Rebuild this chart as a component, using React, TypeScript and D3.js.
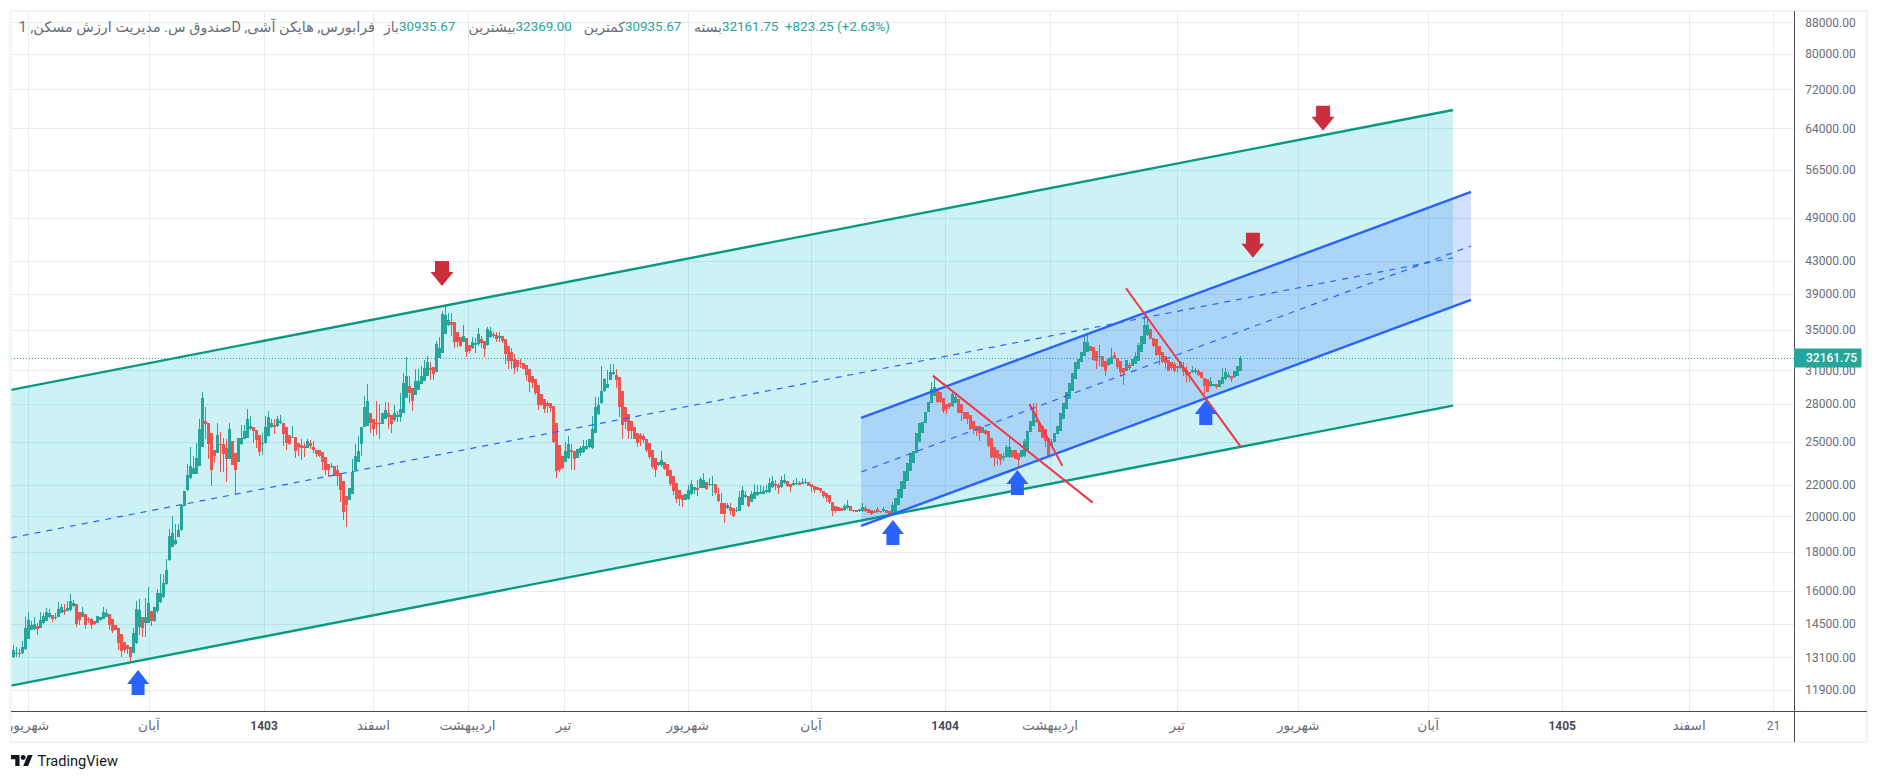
import React from "react";
import * as d3 from "d3";

const opens = [
13100,13230,13260,13260,13420,13850,14220,14250,14390,14310,
14510,14620,14770,14870,14740,14800,14980,15100,15040,15100,
15280,15380,15010,14800,14920,14710,14680,14620,14540,14650,
14710,14800,14920,14680,14430,14330,14050,13710,13590,13500,
13280,13690,14360,14770,14540,14540,15040,14620,15040,15470,
15690,16330,17560,18260,18410,18820,19200,20640,21620,22440,
22730,22730,23290,24590,26600,26440,25650,24370,24150,24820,
24820,24520,23760,25040,24220,23570,24820,25240,25320,25960,
26110,25880,25490,24840,24890,25440,26110,26270,26220,26440,
26490,26110,25490,25290,25390,24890,24740,24690,24540,24940,
24640,24440,24420,24270,23900,23430,23190,23290,23010,22780,
22210,21270,20980,21360,23010,23570,24840,26170,26220,27240,
26810,26440,26440,26390,26810,27240,27130,26700,26960,26960,
27240,28540,29530,29350,28820,29230,29710,30010,30490,31200,
31270,30800,32160,32640,34570,35510,35800,35800,34810,34290,
33780,34120,33440,33110,33440,33540,34050,33880,33440,34220,
34570,34460,34190,34320,34050,33370,32710,32060,32000,31680,
31680,31490,31110,30430,30190,29650,28850,28420,28080,28080,
27820,26440,24740,23950,23520,23830,24370,24320,23810,24150,
24250,24490,24590,24540,25700,27160,28080,29120,29410,30130,
30610,30550,30370,29120,27740,27160,26600,26170,25650,25490,
25440,25240,24890,24440,23860,23360,23360,23570,23430,23010,
22600,22100,21660,21320,20980,21060,21360,21660,21790,21790,
21750,22190,21970,21970,22060,21410,20810,20810,20480,20560,
20520,20310,20350,20680,21190,21230,20890,21100,21320,21400,
21400,21490,21490,21840,22060,21990,21840,22100,22240,22060,
21970,22010,22100,22060,22100,22150,22010,21930,21840,21770,
21560,21450,21340,20890,20640,20560,20480,20390,20480,20640,
20390,20390,20310,20310,20520,20430,20390,20230,20430,20350,
20310,20390,20350,20190,20290,20700,21120,21710,22210,22900,
23480,24200,24990,25700,26490,27350,28130,28710,29230,29000,
28560,27990,28080,27850,28130,28420,27990,27350,27350,27070,
26620,26220,26220,25700,25880,25830,25320,24640,24440,24080,
23860,23900,23900,24440,24440,24200,23900,23950,24440,25750,
26220,26700,26490,26220,25960,25320,24690,24990,25570,25830,
26750,27570,28420,29140,30190,31110,31740,32380,32770,33310,
33240,32880,32320,32380,31900,31490,31580,32450,32120,31900,
31170,30950,31490,31420,31580,31900,32770,33540,34460,35090,
34120,34050,33370,32770,32320,32000,31800,31580,31420,31170,
31270,31050,30800,30800,30860,30950,30800,30250,30190,29590,
29590,29740,29440,29740,30190,30340,30490,30340,30490,30935.67,
];
const highs = [
13590,13500,13420,13770,14770,15010,14620,14770,14540,15010,
14950,15190,15130,14870,14950,15470,15380,15380,15500,15850,
15560,15380,15010,15220,14920,14800,14740,14620,14830,14800,
15220,15160,14920,14680,14430,14330,14050,13710,13590,13500,
14330,15530,15590,14770,15640,16170,15040,15220,16070,16820,
16830,17620,19280,20030,19550,19550,20700,21600,23430,24640,
24000,24940,26810,29000,27790,26440,25650,24370,26490,25780,
25320,25190,26490,25040,24220,25320,26270,26270,27570,27020,
26110,25880,25490,25700,27020,27460,26810,26750,27020,27070,
26490,26110,25490,26220,25390,24890,25240,24940,25190,25140,
25060,24440,24420,24270,23900,23430,23480,23290,23360,22780,
22210,21270,21770,23760,24840,25440,26110,28710,29740,27240,
26810,28240,27990,27300,28190,28190,27130,27910,27410,28940,
30730,32220,30430,29350,31110,31110,31360,32000,32320,31740,
31270,33880,34220,37040,37640,36810,36810,35800,34810,34290,
35510,34120,33440,34220,34120,35160,34320,33880,35270,35270,
34740,34740,34740,34320,34050,33370,33110,32550,32000,32060,
31680,31490,31110,30430,30190,29650,28850,28420,28280,28130,
27820,26440,24740,23950,24990,25440,24820,24320,24490,24690,
25140,25140,25240,27020,28650,28650,31360,30250,31050,31580,
31580,31110,30370,29120,27740,27160,26600,26170,25650,25700,
25570,25240,24890,24440,23860,23570,24300,23570,23430,23010,
22600,22100,21660,21320,21360,21990,22330,21840,22330,22510,
22780,22190,22440,22600,22060,21770,21450,20810,20810,20810,
20520,20600,21580,21930,21560,21230,21560,22060,21990,21990,
21930,21990,22440,22600,22280,22100,22550,22730,22240,22060,
22280,22440,22210,22460,22370,22190,22010,21930,21840,21770,
21560,21450,21340,20890,20640,20560,20480,20770,21020,20640,
20390,20390,20430,20810,20640,20430,20390,20390,20560,20350,
20560,20390,20350,20850,21120,21710,22210,22900,23480,24200,
24320,25700,26490,26540,27350,28190,29890,30430,29230,29000,
28560,27990,28080,29000,29060,28420,27990,27350,27350,27070,
26620,26220,26220,26170,25880,25830,25320,24640,24440,24080,
24150,24740,25320,24440,24440,24200,24440,25190,25830,26620,
28130,28080,26490,26220,25960,25320,25190,25700,26220,27300,
28130,29060,29830,30730,31740,32060,32770,34570,34640,33310,
33240,32880,33440,32380,31900,32120,33110,32710,32120,31900,
31170,32000,31680,32060,32710,33640,34390,36520,36160,35090,
34120,34050,33370,32770,32320,32000,31800,31740,31420,31900,
31740,31420,30860,31360,31170,31110,30800,30250,30190,30340,
29740,29740,30130,31170,31170,30800,30490,30950,31420,32369,
];
const lows = [
13060,13100,13100,13230,13390,13850,14220,14220,14020,14300,
14480,14620,14740,14580,14650,14800,14980,14860,15040,15070,
15220,14360,14430,14770,14280,14510,14280,14430,14510,14620,
14680,14800,14220,14080,14220,13390,13100,13260,13230,12930,
13260,13660,14000,13930,13930,14540,14390,14590,14980,15440,
15660,16300,17520,18220,18350,18780,19160,20640,21560,22370,
22730,22730,23290,24590,25190,23760,21880,23480,24150,22870,
22870,22150,23760,23360,21410,23570,24790,25190,25290,25910,
24940,24560,23950,24070,24840,25390,26060,25570,26170,26390,
24690,24390,24740,25290,23860,23950,23710,23900,24540,24490,
24200,23900,23900,22960,22640,22510,23150,22550,21880,20890,
19790,19390,20980,21360,23010,23570,24000,26170,26220,25700,
25440,25540,25190,26390,26750,25960,25650,26540,26540,26540,
27240,28540,28130,27410,28820,29230,29710,30010,30430,30070,
30070,30800,32160,32640,34570,35440,34390,33110,33210,33210,
33710,32250,32640,33040,32640,33370,33110,32220,33370,34120,
34120,33710,33780,33640,31550,31110,31110,30610,30860,31170,
31110,30010,29060,29350,28820,27520,27850,27300,27300,27350,
24940,22460,22870,23060,23520,23760,23010,23010,23810,23950,
24200,24390,24540,24490,25650,27130,28020,29060,29410,30130,
30550,29350,26960,25240,25960,25240,25190,25190,24640,24690,
24940,24250,23760,23060,22510,23240,23190,23010,22550,21880,
21340,20810,20640,20600,20980,21020,21320,21400,21280,21750,
21750,21620,21930,21230,21340,20850,20150,19630,20430,20090,
19990,20270,20310,20680,21120,20600,20850,21060,21230,21360,
21360,21450,21450,21790,21660,21360,21790,22060,21840,21540,
21930,21990,21970,22010,22060,21880,21490,21450,21620,21450,
21120,20890,20770,20030,20230,20310,20310,20350,20430,20310,
20270,20270,20270,20270,20270,20190,20110,20190,20230,20230,
20270,20190,20110,20150,20290,20700,21120,21710,22210,22900,
23480,24200,24990,25700,26490,27350,28130,28710,28130,28130,
27240,27160,27570,27790,28080,27240,26620,26750,26360,25910,
25570,25440,25060,25650,25520,24640,23830,23240,23360,23360,
23600,23860,23860,23860,23760,23190,23900,23900,24440,25750,
26220,26490,25750,25320,24640,23900,24640,24990,25570,25830,
26750,27570,28420,29140,30190,31110,31740,32380,32770,32840,
31900,31110,31420,31270,30490,31420,31550,32060,31110,30430,
29650,30890,31050,31420,31550,31900,32770,33540,34390,34050,
33240,32380,31490,31680,31110,30950,31050,30860,30860,31110,
30430,29950,29890,30740,30640,30490,30250,28850,29000,29440,
29590,29290,29440,29710,30130,30280,29890,30280,30430,30935.67,
];
const closes = [
13390,13280,13220,13500,14330,14650,14430,14480,14280,14650,
14830,15010,14980,14680,14800,15130,15220,15010,15190,15500,
15440,14480,14650,15010,14430,14650,14450,14480,14830,14800,
15010,14980,14450,14170,14220,13690,13360,13390,13420,13100,
14080,15170,15100,14310,14770,15440,14620,15220,15910,15910,
16360,17030,18860,19010,18630,19200,20700,21600,22660,23240,
23130,23830,25960,28500,26360,24820,23010,24000,25490,24740,
24100,23760,25960,23360,22960,25320,25320,25800,26750,26190,
25800,25140,24250,24940,26110,26910,26440,26110,26810,26600,
25570,24890,24820,25390,24300,24590,24560,24560,25090,24690,
24440,24100,24000,23520,22960,22960,23290,22600,22550,21620,
20270,20680,21770,22820,24000,24300,26110,27740,28240,26440,
25960,26360,26390,27300,27520,26960,26360,27300,27070,27630,
29830,30430,28940,28250,30010,30010,30430,31200,31740,31050,
30680,33540,33110,36740,36600,36090,35510,33780,33780,33310,
34320,32770,32840,33710,33610,34570,33640,33040,35090,34920,
34320,34050,34320,33850,32580,31870,31870,31170,31300,31550,
31110,30550,29950,29830,28940,27960,27960,27630,27850,27660,
24990,22900,23010,23130,24300,24820,24250,23760,24490,24560,
24690,24690,25190,25960,27740,27910,29120,30190,29740,30860,
30860,30130,27790,26330,26540,25830,25830,25190,24890,25240,
25140,24390,23900,23190,23010,23570,23670,23060,22600,22060,
21560,21100,21060,20980,21360,21660,22040,21840,21660,22370,
22330,21710,22060,22060,21450,20940,20150,20150,20720,20310,
20030,20390,21190,21620,21320,20640,21360,21490,21490,21490,
21580,21620,22100,22240,21930,21750,22330,22330,21880,21840,
22100,22100,21990,22190,22190,21930,21840,21620,21660,21580,
21230,21120,20850,20310,20350,20350,20350,20640,20720,20350,
20310,20290,20430,20600,20310,20190,20150,20350,20270,20270,
20430,20190,20150,20720,21120,21710,22210,22900,23480,24200,
24320,25700,26490,26540,27350,28190,29290,29440,28190,28190,
27430,27570,27790,28850,28650,27300,27300,26810,26810,25960,
26010,25830,25700,26170,25570,24690,23900,23830,23830,23670,
24000,24640,24640,23900,23760,23670,24440,25060,25830,26620,
27430,26540,25750,25320,25060,24000,24990,25700,26220,27300,
28130,29060,29830,30730,31740,32060,32770,33780,33780,32880,
32000,31900,32380,31330,30950,32060,32220,32120,31270,30800,
30740,32000,31230,32060,32380,33440,34390,35510,35510,34050,
33310,32450,32450,31740,31680,30950,31170,30950,31170,31740,
30800,30550,30610,31050,31050,30550,30250,29530,29000,30040,
29740,29440,30130,30340,30800,30550,30190,30950,31420,32161.75,
];

const priceTicks = [88000,80000,72000,64000,56500,49000,43000,39000,35000,31000,28000,25000,22000,20000,18000,16000,14500,13100,11900];
const timeLabels = ["شهریور","آبان","1403","اسفند","اردیبهشت","تیر","شهریور","آبان","1404","اردیبهشت","تیر","شهریور","آبان","1405","اسفند","21"];
const timeBars = [5.9,46.2,84.6,121,152.4,184.4,225.8,266.9,311.6,346.6,389,429.3,472.6,517.3,559.6,587.7];
const boldLabels = ["1403","1404","1405"];
const numericLabels = ["1403","1404","1405","21"];

// drawings: [bar, price] anchors
const outerUpper = [[0.23,29220],[480.9,67650]];
const outerLower = [[0.23,12038],[480.9,27880]];
const outerMiddle = [[0.23,18755],[480.9,43429]];
const innerUpper = [[283.6,26867],[486.9,52905]];
const innerLower = [[283.6,19431],[486.9,38270]];
const innerMiddle = [[283.6,22848],[486.9,44997]];
const redLines = [
  [[307.5,30500],[360.8,20840]],
  [[339.7,28020],[350.7,23270]],
  [[371.9,39640],[410.1,24650]],
];
const upArrows = [[42.6,12620],[294.2,19780],[335.7,22990],[398.5,28350]];
const downArrows = [[143.9,39900],[437.6,63580],[414.2,43450]];

const lastClose = 32161.75;
const legendValues = { open: "30935.67", high: "32369.00", low: "30935.67", close: "32161.75", change: "+823.25 (+2.63%)" };
const legendTitle = "فرابورس, هایکن آشی, Dصندوق س. مدیریت ارزش مسکن, 1";

const UP = "#26a69a";
const DOWN = "#ef5350";
const FONT = "Roboto, 'Noto Sans', 'DejaVu Sans', sans-serif";
const TXT = "#6a6d78";
const GRID = "#e6ecf2";
const FRAME = "#f0f3fa";
const AXIS = "#4a4c55";

const x = d3.scaleLinear().domain([1, 410]).range([13.3, 1240.3]);
const y = d3.scaleLog().domain([88000, 11900]).range([22.3, 689.5]);

const paneLeft = 11, paneRight = 1794, paneTop = 11, paneBottom = 711.5, frameRight = 1867, frameBottom = 742;

const lineGen = d3.line<number[]>().x(d => x(d[0])).y(d => y(d[1]));

function band(a: number[][], b: number[][]) {
  return lineGen([...a, ...[...b].reverse()]) + "Z";
}

export default function App() {
  const bars = closes.map((c, i) => ({ i: i + 1, o: opens[i], h: highs[i], l: lows[i], c }));
  return (
    <svg width={1879} height={781} viewBox="0 0 1879 781"
      style={{ position: "absolute", left: 0, top: 0, display: "block", background: "#fff" }}
      fontFamily={FONT}>
      <defs>
        <clipPath id="pane"><rect x={paneLeft} y={paneTop} width={paneRight - paneLeft} height={paneBottom - paneTop} /></clipPath>
        <clipPath id="timeAxis"><rect x={paneLeft} y={paneBottom} width={frameRight - paneLeft} height={frameBottom - paneBottom} /></clipPath>
      </defs>

      {/* grid */}
      <g stroke={GRID} strokeWidth={1} shapeRendering="crispEdges">
        {priceTicks.map(t => <line key={t} x1={paneLeft} x2={paneRight} y1={Math.round(y(t)) + 0.5} y2={Math.round(y(t)) + 0.5} />)}
        {timeBars.map((b, i) => <line key={i} x1={Math.round(x(b)) + 0.5} x2={Math.round(x(b)) + 0.5} y1={paneTop} y2={paneBottom} />)}
      </g>

      <g clipPath="url(#pane)">
        {/* channel fills */}
        <path d={band(outerUpper, outerLower)} fill="#00bcd4" fillOpacity={0.2} />
        <path d={band(innerUpper, innerLower)} fill="#2962ff" fillOpacity={0.2} />

        {/* candles */}
        {bars.map(d => {
          const col = d.c >= d.o ? UP : DOWN;
          const top = y(Math.max(d.o, d.c));
          const bot = y(Math.min(d.o, d.c));
          const cx = x(d.i);
          return (
            <g key={d.i}>
              <rect x={Math.round(cx)} y={y(d.h)} width={1} height={Math.max(0.5, y(d.l) - y(d.h))} fill={col} shapeRendering="crispEdges" />
              <rect x={Math.round(cx) - 1} y={top} width={3} height={Math.max(1, bot - top)} fill={col} shapeRendering="crispEdges" />
            </g>
          );
        })}

        {/* last price line */}
        <line x1={paneLeft} x2={paneRight} y1={Math.round(y(lastClose)) + 0.5} y2={Math.round(y(lastClose)) + 0.5}
          stroke={UP} strokeWidth={1} strokeDasharray="1 2" shapeRendering="crispEdges" />

        {/* channel lines */}
        <path d={lineGen(outerMiddle)!} fill="none" stroke="#2962ff" strokeWidth={1.2} strokeDasharray="6 6" />
        <path d={lineGen(innerMiddle)!} fill="none" stroke="#2962ff" strokeWidth={1.2} strokeDasharray="6 6" />
        <path d={lineGen(outerUpper)!} fill="none" stroke="#089981" strokeWidth={2.4} />
        <path d={lineGen(outerLower)!} fill="none" stroke="#089981" strokeWidth={2.4} />
        <path d={lineGen(innerUpper)!} fill="none" stroke="#2962ff" strokeWidth={2.4} />
        <path d={lineGen(innerLower)!} fill="none" stroke="#2962ff" strokeWidth={2.4} />
        {redLines.map((l, i) => <path key={i} d={lineGen(l)!} fill="none" stroke="#f23645" strokeWidth={2} />)}

        {/* arrows */}
        {upArrows.map((a, i) => {
          const ax = x(a[0]), ay = y(a[1]);
          return <path key={i} fill="#2962ff" d={`M${ax},${ay}L${ax + 11},${ay + 14}H${ax + 6.5}V${ay + 25}H${ax - 6.5}V${ay + 14}H${ax - 11}Z`} />;
        })}
        {downArrows.map((a, i) => {
          const ax = x(a[0]), ay = y(a[1]);
          return <path key={i} fill="#cc2f3c" d={`M${ax},${ay}L${ax + 11.5},${ay - 14}H${ax + 7}V${ay - 25}H${ax - 7}V${ay - 14}H${ax - 11.5}Z`} />;
        })}
      </g>

      {/* frame and axes */}
      <rect x={10.5} y={11} width={frameRight - 10.5} height={frameBottom - 11} fill="none" stroke={FRAME} strokeWidth={2} />
      <line x1={paneLeft} x2={frameRight} y1={paneBottom} y2={paneBottom} stroke={AXIS} strokeWidth={1} shapeRendering="crispEdges" />
      <line x1={paneRight + 0.5} x2={paneRight + 0.5} y1={paneTop} y2={frameBottom} stroke={AXIS} strokeWidth={1} shapeRendering="crispEdges" />

      {/* price axis */}
      <g fontSize={12} fill={TXT}>
        {priceTicks.map(t => (
          <text key={t} x={1805.3} y={y(t)} dy="0.36em">{t.toFixed(2)}</text>
        ))}
      </g>
      <rect x={1794} y={y(lastClose) - 9.5} width={67.5} height={19} fill={UP} rx={1} />
      <text x={1806} y={y(lastClose)} dy="0.36em" fontSize={12} fontWeight={500} fill="#fff">{lastClose.toFixed(2)}</text>

      {/* time axis */}
      <g clipPath="url(#timeAxis)" fill={TXT} textAnchor="middle">
        {timeLabels.map((l, i) => (
          <text key={i} x={x(timeBars[i])} y={725.5} dy="0.36em"
            fontSize={numericLabels.includes(l) ? 12 : 13.6}
            fontWeight={boldLabels.includes(l) ? 700 : 400}
            fill={boldLabels.includes(l) ? "#4a4c55" : TXT}>{l}</text>
        ))}
      </g>

      {/* legend */}
      <g fontSize={13.4}>
        <text x={375} y={26.6} dy="0.36em" fill={TXT} fontSize={14.4} textAnchor="start" style={{ direction: "rtl" }}>{legendTitle}</text>
        <text x={399} y={26.6} dy="0.36em" fill={TXT} fontSize={14} textAnchor="end">باز</text>
        <text x={399} y={26.6} dy="0.36em" fill={UP}>{legendValues.open}</text>
        <text x={515.6} y={26.6} dy="0.36em" fill={TXT} fontSize={14} textAnchor="end">بیشترین</text>
        <text x={515.6} y={26.6} dy="0.36em" fill={UP}>{legendValues.high}</text>
        <text x={625} y={26.6} dy="0.36em" fill={TXT} fontSize={14} textAnchor="end">کمترین</text>
        <text x={625} y={26.6} dy="0.36em" fill={UP}>{legendValues.low}</text>
        <text x={722} y={26.6} dy="0.36em" fill={TXT} fontSize={14} textAnchor="end">بسته</text>
        <text x={722} y={26.6} dy="0.36em" fill={UP}>{legendValues.close}</text>
        <text x={785} y={26.6} dy="0.36em" fill={UP}>{legendValues.change}</text>
      </g>

      {/* logo */}
      <g transform="translate(11,752.6) scale(0.61)" fill="#131722">
        <path d="M14 22H7V11H0V4h14v18zM28 22h-8l7.5-18h8L28 22z" />
        <circle cx={20} cy={8} r={4} />
      </g>
      <text x={37.5} y={760.5} dy="0.36em" fontSize={14.6} fontWeight={400} fill="#131722">TradingView</text>
    </svg>
  );
}
